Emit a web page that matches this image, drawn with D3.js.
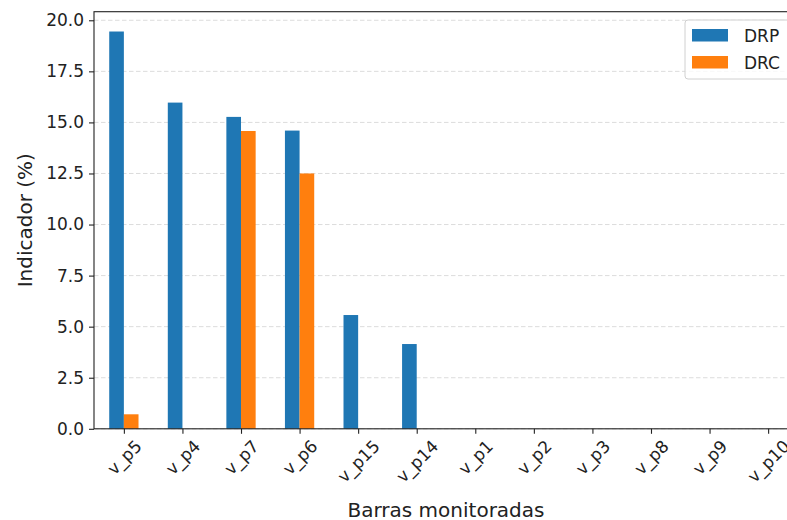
<!DOCTYPE html>
<html>
<head>
<meta charset="utf-8">
<script src="https://cdn.jsdelivr.net/npm/d3@7"></script>
<style>
  html, body { margin: 0; padding: 0; background: #fff; overflow: hidden; }
  svg { display: block; font-family: "DejaVu Sans", sans-serif; }
</style>
</head>
<body>
<svg id="chart" width="787" height="520"></svg>
<script>
const categories = ["v_p5","v_p4","v_p7","v_p6","v_p15","v_p14","v_p1","v_p2","v_p3","v_p8","v_p9","v_p10"];
const drpValues = [19.45, 15.97, 15.27, 14.6, 5.57, 4.15, 0, 0, 0, 0, 0, 0];
const drcValues = [0.71, 0, 14.58, 12.5, 0, 0, 0, 0, 0, 0, 0, 0];
const seriesNames = ["DRP", "DRC"];
const seriesColors = ["#1f77b4", "#ff7f0e"];
const yTicks = [0, 2.5, 5, 7.5, 10, 12.5, 15, 17.5, 20];

(function () {
const svg = d3.select("#chart");
const mLeft = 94, mRight = 798, mTop = 11.7, mBottom = 428.8;
const tickFont = 17, labelFont = 20;

const x = d3.scaleLinear().domain([-0.51, categories.length - 1 + 0.51]).range([mLeft, mRight]);
const y = d3.scaleLinear().domain([0, 20.42]).range([mBottom, mTop]);
const barW = 0.25;

// grid
const grid = svg.append("g");
yTicks.forEach(t => {
  grid.append("line")
    .attr("x1", mLeft).attr("x2", mRight)
    .attr("y1", y(t)).attr("y2", y(t))
    .attr("stroke", "#dcdcdc").attr("stroke-width", 1)
    .attr("stroke-dasharray", "4.5,2.5");
});

// bars
const series = [drpValues, drcValues];
series.forEach((vals, s) => {
  svg.append("g").selectAll("rect")
    .data(vals)
    .join("rect")
    .attr("x", (d, i) => x(i + (s === 0 ? -barW : 0)))
    .attr("width", (d, i) => x(i + barW) - x(i))
    .attr("y", d => y(d))
    .attr("height", d => y(0) - y(d))
    .attr("fill", seriesColors[s]);
});

// spines
svg.append("rect")
  .attr("x", mLeft).attr("y", mTop)
  .attr("width", mRight - mLeft).attr("height", mBottom - mTop)
  .attr("fill", "none").attr("stroke", "#222").attr("stroke-width", 1.1);

// y axis
const yAxis = d3.axisLeft(y).tickValues(yTicks).tickFormat(d => d.toFixed(1)).tickSize(5).tickPadding(5);
const ya = svg.append("g").attr("transform", `translate(${mLeft},0)`).call(yAxis);
ya.select(".domain").remove();
ya.selectAll("line").attr("stroke", "#222").attr("stroke-width", 1.1);
ya.selectAll("text").attr("font-size", tickFont).attr("fill", "#222").attr("font-family", "DejaVu Sans");

// x axis
const xAxis = d3.axisBottom(x).tickValues(d3.range(categories.length)).tickFormat(i => categories[i]).tickSize(5);
const xa = svg.append("g").attr("transform", `translate(0,${mBottom})`).call(xAxis);
xa.select(".domain").remove();
xa.selectAll("line").attr("stroke", "#222").attr("stroke-width", 1.1);
xa.selectAll("text")
  .attr("font-size", tickFont).attr("fill", "#222").attr("font-family", "DejaVu Sans")
  .attr("text-anchor", "middle").attr("dy", null).attr("y", 0)
  .attr("dominant-baseline", "central")
  .each(function() {
    const w = this.getComputedTextLength();
    const h = 12.5;
    const half = (w + h) / (2 * Math.SQRT2);
    const cy = 5 + 5 + half;
    d3.select(this).attr("transform", `translate(0,${cy}) rotate(-45)`);
  });

// axis labels
svg.append("text")
  .attr("x", (mLeft + mRight) / 2).attr("y", 516.5)
  .attr("text-anchor", "middle").attr("font-size", labelFont).attr("fill", "#222")
  .text("Barras monitoradas");
svg.append("text")
  .attr("transform", `translate(32,${(mTop + mBottom) / 2}) rotate(-90)`)
  .attr("text-anchor", "middle").attr("font-size", labelFont).attr("fill", "#222")
  .text("Indicador (%)");

// legend
const lg = svg.append("g");
lg.append("rect")
  .attr("x", 685).attr("y", 20).attr("width", 120).attr("height", 59).attr("rx", 3)
  .attr("fill", "#fff").attr("fill-opacity", 0.8).attr("stroke", "#d0d0d0");
seriesNames.forEach((n, i) => {
  lg.append("rect").attr("x", 692).attr("y", 29 + i * 27).attr("width", 36).attr("height", 12.5)
    .attr("fill", seriesColors[i]);
  lg.append("text").attr("x", 744).attr("y", 35.5 + i * 27).attr("dominant-baseline", "central")
    .attr("font-size", tickFont).attr("fill", "#222").text(n);
});
})();
</script>
</body>
</html>
